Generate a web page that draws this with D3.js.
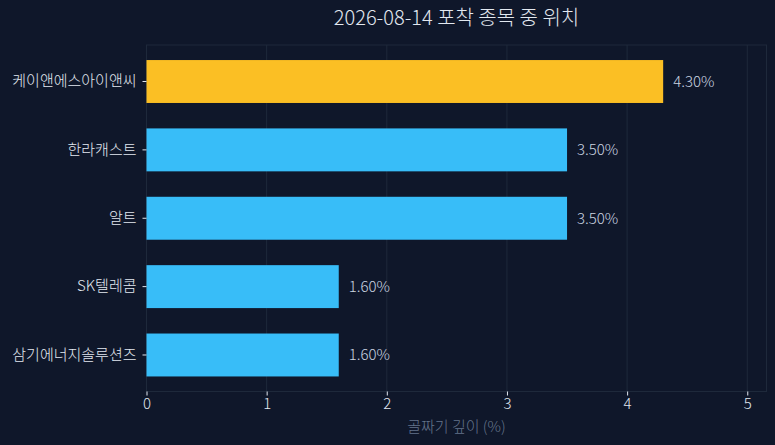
<!DOCTYPE html>
<html><head><meta charset="utf-8">
<script src="https://cdn.jsdelivr.net/npm/d3@7"></script>
<style>
html,body{margin:0;padding:0;background:#0f172a;}
svg{display:block;font-family:"Noto Sans CJK KR","Noto Sans",sans-serif;font-weight:300;}
</style></head>
<body>
<svg id="chart" width="775" height="445"></svg>
<script>
const categories = ["케이앤에스아이앤씨","한라캐스트","알트","SK텔레콤","삼기에너지솔루션즈"];
const values = [4.3, 3.5, 3.5, 1.6, 1.6];
const highlight = ["케이앤에스아이앤씨"];
const xTicks = [0,1,2,3,4,5];
const title = "2026-08-14 포착 종목 중 위치";
const xLabel = "골짜기 깊이 (%)";

const FONT = "Noto Sans CJK KR";
const svg = d3.select("#chart");
const W = 775, H = 445;
const m = {left:146.5, right:8.5, top:45, bottom:53.5};
svg.append("rect").attr("width",W).attr("height",H).attr("fill","#0f172a");

const x = d3.scaleLinear().domain([0, d3.max(values)*1.2]).range([m.left, W-m.right]);
const y = d3.scaleBand().domain(categories).range([m.top, H-m.bottom]).paddingInner(0.372).paddingOuter(0.22);

// grid
svg.append("g").selectAll("line").data(xTicks.slice(1)).join("line")
  .attr("x1",d=>x(d)).attr("x2",d=>x(d)).attr("y1",m.top).attr("y2",H-m.bottom)
  .attr("stroke","#1e293b").attr("stroke-width",1);

// frame
svg.append("rect").attr("x",m.left).attr("y",m.top).attr("width",W-m.right-m.left).attr("height",H-m.bottom-m.top)
  .attr("fill","none").attr("stroke","#1e293b").attr("stroke-width",1);

// bars
svg.append("g").selectAll("rect").data(categories).join("rect")
  .attr("x",x(0)).attr("y",d=>y(d)).attr("height",y.bandwidth())
  .attr("width",(d,i)=>x(values[i])-x(0))
  .attr("fill",d=>highlight.includes(d)?"#fbbf24":"#38bdf8");

// value labels
svg.append("g").selectAll("text").data(categories).join("text")
  .attr("x",(d,i)=>x(values[i])+10).attr("y",d=>y(d)+y.bandwidth()/2)
  .attr("dy","0.35em").attr("fill","#cbd5e1").attr("font-size",15)
  .text((d,i)=>values[i].toFixed(2)+"%");

// x axis
const xa = svg.append("g").attr("transform",`translate(0,${H-m.bottom})`)
  .call(d3.axisBottom(x).tickValues(xTicks).tickSize(4).tickPadding(3).tickFormat(d3.format("d")));
xa.select(".domain").remove();
xa.selectAll("line").attr("stroke","#e2e8f0");
xa.selectAll("text").attr("fill","#e2e8f0").attr("font-size",15).attr("font-family",FONT);

// y axis
const ya = svg.append("g").attr("transform",`translate(${m.left},0)`)
  .call(d3.axisLeft(y).tickSize(4).tickPadding(6));
ya.select(".domain").remove();
ya.selectAll("line").attr("stroke","#e2e8f0");
ya.selectAll("text").attr("fill","#e2e8f0").attr("font-size",15).attr("font-family",FONT);

// titles
svg.append("text").attr("x",(m.left+W-m.right)/2).attr("y",25).attr("text-anchor","middle")
  .attr("fill","#e2e8f0").attr("font-size",20).text(title);
svg.append("text").attr("x",(m.left+W-m.right)/2).attr("y",432).attr("text-anchor","middle")
  .attr("fill","#64748b").attr("font-size",15).text(xLabel);
</script>
</body></html>
